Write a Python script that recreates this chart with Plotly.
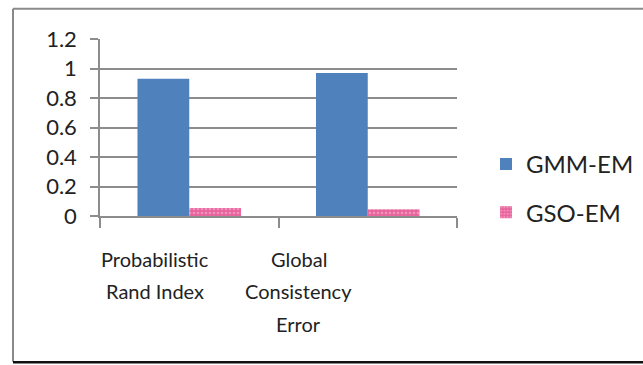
import plotly.graph_objects as go

# Segmentation quality metrics for the two methods
categories = ["Probabilistic Rand Index", "Global Consistency Error"]
category_lines = [["Probabilistic", "Rand Index"], ["Global", "Consistency", "Error"]]
gmm_em = [0.93, 0.97]
gso_em = [0.055, 0.045]
y_ticks = [0, 0.2, 0.4, 0.6, 0.8, 1, 1.2]
y_tick_text = ["0", "0.2", "0.4", "0.6", "0.8", "1", "1.2"]

FONT = "Lato"
TEXT = "#222222"
GRID = "#8c8c8c"

W, H = 643, 365
L, R, T, B = 100, 186, 38.5, 148.5
pw, ph = W - L - R, H - T - B


def px(x):
    return (x - L) / pw


def py(y):
    return (H - B - y) / ph


fig = go.Figure()
fig.add_trace(go.Bar(
    x=categories, y=gmm_em, name="GMM-EM",
    marker=dict(color="#4f81bd", line=dict(width=0)),
    legendgroup="a",
))
fig.add_trace(go.Bar(
    x=categories, y=gso_em, name="GSO-EM",
    marker=dict(color="#e8639c", line=dict(width=0),
                pattern=dict(shape=".", fgcolor="#f7c3d9", bgcolor="#e8639c",
                             size=4, solidity=0.35)),
    legendgroup="b",
))

annotations = []
label_centers = [154.7, 298.7]
line_ys = [260, 291.5, 325.5]
for cx, lines in zip(label_centers, category_lines):
    for i, line in enumerate(lines):
        annotations.append(dict(
            text=line, x=px(cx), y=py(line_ys[i]), xref="paper", yref="paper",
            xanchor="center", yanchor="middle", showarrow=False,
            font=dict(family=FONT, size=20, color=TEXT),
        ))

shapes = [
    # outer frame: grey top and left, dark bottom
    dict(type="line", xref="paper", yref="paper", x0=px(13), x1=px(643),
         y0=py(8), y1=py(8), line=dict(color="#8a8a8a", width=2)),
    dict(type="line", xref="paper", yref="paper", x0=px(13), x1=px(13),
         y0=py(8), y1=py(363), line=dict(color="#8a8a8a", width=2)),
    dict(type="line", xref="paper", yref="paper", x0=px(13), x1=px(643),
         y0=py(363.5), y1=py(363.5), line=dict(color="#111111", width=2.5)),
]

fig.update_layout(
    width=W, height=H,
    margin=dict(l=L, r=R, t=T, b=B, pad=0, autoexpand=False),
    paper_bgcolor="white", plot_bgcolor="white",
    barmode="group", bargap=0.42, bargroupgap=0,
    font=dict(family=FONT, color=TEXT),
    showlegend=True,
    legend=dict(x=px(486), y=py(142), xanchor="left", yanchor="top",
                font=dict(family=FONT, size=24, color=TEXT),
                tracegroupgap=14, bgcolor="rgba(0,0,0,0)"),
    annotations=annotations,
    shapes=shapes,
)
fig.update_xaxes(
    showticklabels=False, tickson="boundaries", ticks="outside", ticklen=10,
    tickcolor=GRID, tickwidth=1.5, showline=True, linecolor=GRID, linewidth=1.5,
    showgrid=False, zeroline=False,
)
fig.update_yaxes(
    range=[0, 1.2], tickvals=y_ticks, ticktext=y_tick_text,
    ticks="outside", ticklen=8, tickcolor=GRID, tickwidth=1.5,
    showline=True, linecolor=GRID, linewidth=1.5,
    showgrid=True, gridcolor=GRID, gridwidth=1.5, zeroline=False,
    tickfont=dict(family=FONT, size=22, color=TEXT), ticklabelstandoff=9,
)

fig.write_html("out.html")
